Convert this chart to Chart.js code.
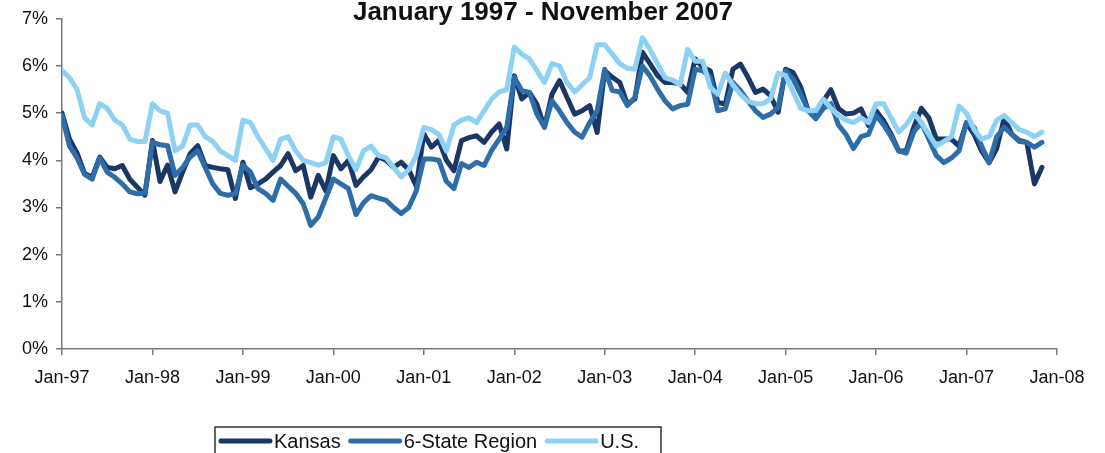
<!DOCTYPE html>
<html>
<head>
<meta charset="utf-8">
<script src="https://cdn.jsdelivr.net/npm/chart.js@4.4.0/dist/chart.umd.min.js"></script>
<style>
  html, body { margin: 0; padding: 0; background: #ffffff; }
  #wrap { width: 1105px; height: 453px; position: relative; }
</style>
</head>
<body>
<div id="wrap"><canvas id="c" width="1105" height="453"></canvas></div>
<script>
const titleText = 'January 1997 - November 2007';
const seriesNames = ['Kansas', '6-State Region', 'U.S.'];
const tickLabels = ['Jan-97','Jan-98','Jan-99','Jan-00','Jan-01','Jan-02','Jan-03','Jan-04','Jan-05','Jan-06','Jan-07','Jan-08'];

const kansas = [
  5.0,4.45,4.15,3.72,3.64,4.07,3.85,3.82,3.89,3.6,3.43,3.26,
  4.42,3.55,3.9,3.33,3.75,4.14,4.31,3.89,3.85,3.82,3.8,3.19,
  3.96,3.42,3.5,3.6,3.75,3.89,4.14,3.78,3.89,3.22,3.68,3.35,
  4.1,3.82,4.0,3.47,3.65,3.8,4.07,4.0,3.85,3.96,3.8,3.45,
  4.56,4.28,4.42,4.0,3.78,4.42,4.48,4.52,4.38,4.6,4.77,4.24,
  5.79,5.3,5.44,5.19,4.7,5.4,5.69,5.33,4.98,5.05,5.16,4.59,
  5.9,5.76,5.65,5.19,5.3,6.29,6.05,5.8,5.65,5.65,5.62,5.44,
  6.15,5.97,5.9,5.23,5.19,5.93,6.04,5.76,5.44,5.51,5.37,5.02,
  5.93,5.86,5.55,5.05,4.98,5.26,5.5,5.1,4.98,5.0,5.09,4.74,
  5.05,4.84,4.55,4.2,4.2,4.7,5.1,4.9,4.45,4.45,4.45,4.3,
  4.8,4.55,4.2,3.95,4.25,4.9,4.55,4.42,4.38,3.5,3.85
];
const region = [
  4.95,4.3,4.05,3.7,3.6,4.05,3.75,3.64,3.5,3.33,3.29,3.3,
  4.38,4.33,4.31,3.68,3.85,4.07,4.2,3.85,3.5,3.3,3.26,3.29,
  3.9,3.75,3.4,3.3,3.15,3.6,3.45,3.3,3.08,2.62,2.8,3.2,
  3.6,3.5,3.4,2.85,3.1,3.25,3.2,3.15,3.0,2.87,3.0,3.35,
  4.03,4.03,4.0,3.55,3.4,3.93,3.85,3.96,3.89,4.21,4.45,4.7,
  5.76,5.48,5.44,4.98,4.7,5.26,5.05,4.8,4.6,4.49,4.8,5.05,
  5.93,5.48,5.45,5.16,5.33,6.0,5.79,5.51,5.26,5.09,5.16,5.19,
  5.93,5.9,5.76,5.05,5.09,5.65,5.48,5.26,5.05,4.91,4.98,5.12,
  5.9,5.72,5.4,5.05,4.88,5.1,5.2,4.75,4.55,4.25,4.5,4.55,
  4.95,4.75,4.5,4.2,4.15,4.6,4.8,4.45,4.1,3.95,4.05,4.2,
  4.8,4.7,4.3,3.95,4.5,4.7,4.55,4.4,4.38,4.28,4.38
];
const us = [
  5.9,5.75,5.5,4.9,4.75,5.2,5.1,4.85,4.75,4.45,4.4,4.4,
  5.2,5.05,5.0,4.2,4.3,4.75,4.75,4.5,4.4,4.2,4.1,4.0,
  4.85,4.8,4.5,4.25,4.0,4.45,4.5,4.2,4.0,3.95,3.9,3.95,
  4.5,4.45,4.1,3.8,4.2,4.3,4.1,4.05,3.85,3.65,3.8,4.1,
  4.7,4.65,4.55,4.2,4.75,4.85,4.9,4.8,5.05,5.3,5.45,5.5,
  6.4,6.25,6.15,5.9,5.65,6.05,6.0,5.65,5.45,5.6,5.75,6.45,
  6.45,6.25,6.05,5.95,5.93,6.6,6.35,6.05,5.75,5.7,5.6,6.35,
  6.1,6.1,5.55,5.4,5.85,5.6,5.4,5.25,5.2,5.2,5.3,5.85,
  5.8,5.45,5.1,5.05,5.05,5.3,5.1,4.95,4.85,4.8,4.9,4.8,
  5.2,5.2,4.9,4.6,4.75,5.0,4.8,4.55,4.3,4.4,4.5,5.15,
  5.0,4.65,4.45,4.5,4.85,4.95,4.8,4.65,4.6,4.5,4.6
];
const colors = ['#1b3765', '#2d6da8', '#8dd2f5'];

const toPts = arr => arr.map((v, i) => ({ x: i, y: v }));

const FONT = "'Liberation Sans', Arial, Helvetica, sans-serif";

const fixedBoxes = {
  id: 'fixedBoxes',
  beforeDraw(chart) {
    const ctx = chart.ctx;
    ctx.save();
    ctx.fillStyle = '#ffffff';
    ctx.fillRect(0, 0, chart.width, chart.height);
    ctx.restore();
  },
  afterDraw(chart) {
    const ctx = chart.ctx;
    ctx.save();
    // title
    ctx.fillStyle = '#111111';
    ctx.font = 'bold 26px ' + FONT;
    ctx.textAlign = 'center';
    ctx.textBaseline = 'middle';
    ctx.fillText(titleText, 543, 13);
    // legend
    const boxL = 215, boxT = 427, boxR = 661, boxB = 470;
    ctx.strokeStyle = '#333333';
    ctx.lineWidth = 1.5;
    ctx.strokeRect(boxL, boxT, boxR - boxL, boxB - boxT);
    ctx.font = '20px ' + FONT;
    ctx.textAlign = 'left';
    ctx.textBaseline = 'middle';
    const cy = 441;
    let x = 221;
    chart.data.datasets.forEach((ds, i) => {
      ctx.strokeStyle = ds.borderColor;
      ctx.lineWidth = 5;
      ctx.lineCap = 'round';
      ctx.beginPath();
      ctx.moveTo(x, cy);
      ctx.lineTo(x + 49, cy);
      ctx.stroke();
      ctx.fillStyle = '#111111';
      ctx.fillText(ds.label, x + 53, cy + 1);
      x += 53 + ctx.measureText(ds.label).width + 10;
    });
    ctx.restore();
  }
};

new Chart(document.getElementById('c'), {
  type: 'line',
  data: {
    datasets: [
      { label: seriesNames[0], data: toPts(kansas), borderColor: colors[0], order: 2 },
      { label: seriesNames[1], data: toPts(region), borderColor: colors[1], order: 1 },
      { label: seriesNames[2], data: toPts(us), borderColor: colors[2], order: 0 }
    ]
  },
  options: {
    responsive: false,
    animation: false,
    devicePixelRatio: 1,
    layout: { padding: { left: 0, right: 48, top: 18, bottom: 0 } },
    elements: {
      point: { radius: 0, hoverRadius: 0 },
      line: { borderWidth: 5, tension: 0, borderJoinStyle: 'round', borderCapStyle: 'round' }
    },
    plugins: { legend: { display: false }, title: { display: false }, tooltip: { enabled: false } },
    scales: {
      x: {
        type: 'linear',
        min: 0, max: 132,
        afterFit(scale) { scale.height = 104; },
        afterBuildTicks(scale) {
          scale.ticks = tickLabels.map((_, i) => ({ value: i * 12 }));
        },
        ticks: {
          autoSkip: false, maxRotation: 0, minRotation: 0,
          padding: 12,
          color: '#111111',
          font: { family: FONT, size: 18 },
          callback: (v) => tickLabels[Math.round(v / 12)]
        },
        grid: { drawOnChartArea: false, drawTicks: true, tickLength: 6, color: '#777777', lineWidth: 1.5 },
        border: { display: true, color: '#777777', width: 1.5 }
      },
      y: {
        min: 0, max: 7,
        afterFit(scale) { scale.width = 62; },
        ticks: {
          stepSize: 1,
          padding: 8,
          color: '#111111',
          font: { family: FONT, size: 18 },
          callback: (v) => v + '%'
        },
        grid: { drawOnChartArea: false, drawTicks: true, tickLength: 6, color: '#777777', lineWidth: 1.5 },
        border: { display: true, color: '#777777', width: 1.5 }
      }
    }
  },
  plugins: [fixedBoxes]
});
</script>
</body>
</html>
